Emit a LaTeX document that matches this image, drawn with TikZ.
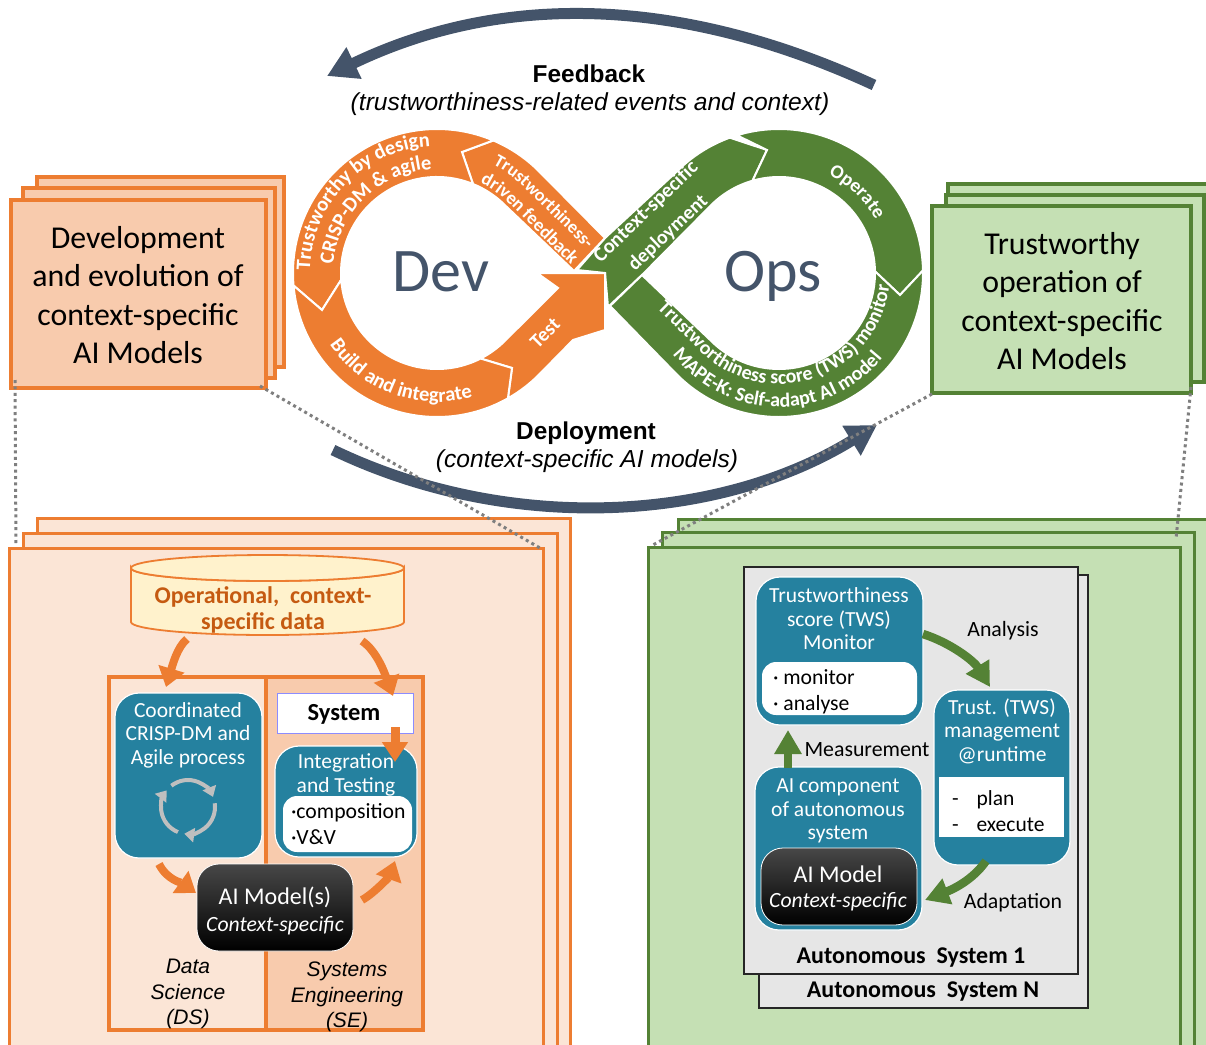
\documentclass[tikz,border=0pt]{standalone}
\usepackage{fontspec}
\setmainfont{Carlito}
\newfontfamily\arialf{Liberation Sans}
\usetikzlibrary{arrows.meta,calc,decorations.text}
\definecolor{orA}{HTML}{ED7D31}
\definecolor{orL}{HTML}{F8CBAD}
\definecolor{orP}{HTML}{FBE5D6}
\definecolor{grA}{HTML}{548235}
\definecolor{grL}{HTML}{C5E0B4}
\definecolor{teal1}{HTML}{25819F}
\definecolor{slate}{HTML}{44546A}
\definecolor{iconG}{HTML}{BFBFBF}
\definecolor{dot1}{HTML}{7F7F7F}
\definecolor{panel}{HTML}{E6E6E6}
\definecolor{dataF}{HTML}{FFF2CC}
\definecolor{dataT}{HTML}{C55A11}
\newcommand{\pxbox}[6]{\node[#6,minimum width={(#4-#2)*1pt},minimum height={(#5-#3)*1pt}] (#1) at ({(#2+#4)/2},{(#3+#5)/2}) {};}
\newcommand{\rfont}[1]{\fontsize{#1}{#1}\bfseries\selectfont}
\tikzset{
  base/.style={rectangle,inner sep=0pt,outer sep=0pt},
  stackO/.style={base,draw=orA,fill=orL,line width=3.6pt},
  stackG/.style={base,draw=grA,fill=grL,line width=3.6pt},
  pageO/.style={base,draw=orA,fill=orP,line width=3pt},
  pageG/.style={base,draw=grA,fill=grL,line width=3pt},
  lane/.style={base,draw=orA,line width=4pt},
  tealbox/.style={base,draw=white,fill=teal1,line width=1.2pt,rounded corners=24pt},
  whitein/.style={base,fill=white,rounded corners=14pt},
  blackbox/.style={base,draw=white,line width=0.8pt,rounded corners=22pt,top color=black!72,middle color=black,bottom color=black},
  panelb/.style={base,draw=black!85,fill=panel,line width=2pt},
  seg/.style={draw=white,line width=2pt,line join=miter},
  segO/.style={seg,fill=orA},
  segG/.style={seg,fill=grA},
  ribbon/.style={decorate,decoration={text along path,text align=center,text color=white,text format delimiters={|}{|}}},
  wt/.style={inner sep=0pt,outer sep=0pt,text=white,align=center,font=\fontsize{21.5}{23.6}\selectfont},
  bt/.style={inner sep=0pt,outer sep=0pt,text=black,align=center,font=\fontsize{21.5}{23.6}\selectfont},
  big/.style={inner sep=0pt,outer sep=0pt,text=black,align=center,font=\fontsize{31.8}{38.3}\selectfont},
  hd/.style={inner sep=0pt,outer sep=0pt,text=black,align=center},
  ital/.style={inner sep=0pt,outer sep=0pt,text=black,align=center,font=\arialf\itshape\fontsize{21}{25.2}\selectfont},
  oarrow/.style={draw=orA,line width=8pt,-{Triangle[length=19pt,width=26pt]}},
  garrow/.style={draw=grA,line width=8.5pt,-{Triangle[length=24pt,width=26pt]}},
  bigarrow/.style={draw=slate,line width=11pt,-{Triangle[length=30pt,width=33pt]}},
  dotted1/.style={draw=dot1,line width=3pt,dash pattern=on 3pt off 3.4pt},
  iconarrow/.style={draw=iconG,line width=4pt,-{Triangle[length=10pt,width=14pt]}}
}
\begin{document}
\begin{tikzpicture}[x=1pt,y=-1pt]
\useasboundingbox (0,0) rectangle (1206,1044);
\clip (0,0) rectangle (1206,1044);
\coordinate (dev) at (437,273);
\coordinate (ops) at (779,273);

% stacked upper boxes
\pxbox{devC}{37}{177}{284}{367}{stackO}
\pxbox{devB}{23}{188}{275}{378}{stackO}
\pxbox{devA}{11}{200}{266}{388}{stackO}
\node[big] (devtext) at (138,295) {Development\\and evolution of\\context-specific\\AI Models};
\pxbox{opsC}{948}{184}{1220}{371}{stackG}
\pxbox{opsB}{946}{195}{1204}{382}{stackG}
\pxbox{opsA}{932}{206}{1191}{393}{stackG}
\node[big] (opstext) at (1062,301) {Trustworthy\\operation of\\context-specific\\AI Models};

% lower-left pages
\pxbox{pgC}{37}{518}{570}{1100}{pageO}
\pxbox{pgB}{23}{533}{557}{1100}{pageO}
\pxbox{pgA}{9}{548}{543}{1100}{pageO}
\pxbox{ds}{109}{677}{266}{1030}{lane}
\pxbox{se}{266}{677}{423}{1030}{lane,fill=orL}

% data store
\node[base,minimum width=273pt,minimum height=80pt] (data) at (267.5,595) {};
\draw[draw=orA,fill=dataF,line width=1.8pt] (data.north west) ++(0,13) coordinate (cylL)
  -- ++(0,54) arc (180:0:136.5 and 13) -- ++(0,-54) arc (0:180:136.5 and 13) -- cycle;
\draw[draw=orA,fill=dataF,line width=1.8pt] (cylL) arc (180:-180:136.5 and 13);
\node[inner sep=0pt,text=dataT,align=center,font=\fontsize{24}{26.5}\bfseries\selectfont] (datatext) at (263,610) {Operational,\ \ context-\\specific data};

% DS column
\pxbox{crisp}{115}{693}{262}{858}{tealbox}
\node[wt] (crisptext) at (188,735) {Coordinated\\CRISP-DM and\\Agile process};
\coordinate (icon) at (188,807);
\draw[iconarrow] ($(icon)+(232:27)$) arc (232:338:27);
\draw[iconarrow] ($(icon)+(352:27)$) arc (352:458:27);
\draw[iconarrow] ($(icon)+(112:27)$) arc (112:218:27);

% SE column
\pxbox{sys}{277}{693}{413}{733}{base,draw=blue!45!white,fill=white,line width=0.8pt}
\node[inner sep=0pt,font=\fontsize{24.5}{25}\bfseries\selectfont] (systext) at (344,714) {System};
\pxbox{integ}{275}{746}{417}{857}{tealbox}
\node[wt] (integtext) at (346,775) {Integration\\and Testing};
\pxbox{compbox}{283}{796}{412}{852}{whitein}
\node[bt,anchor=west,align=left,font=\fontsize{21.7}{25.5}\selectfont] (comptext) at (291,824) {·composition\\·V\&V};
\pxbox{aim}{197}{864}{353}{951}{blackbox}
\node[wt,font=\fontsize{24}{26}\selectfont] (aimtext) at (275,897) {AI Model(s)};
\node[wt,font=\fontsize{21.7}{24}\itshape\selectfont] (aimsub) at (275,926) {Context-specific};
\node[ital] (dslabel) at (188,994) {Data\\Science\\(DS)};
\node[ital] (selabel) at (347,997) {Systems\\Engineering\\(SE)};

% arrows left
\draw[oarrow] ($(data.south west)+(56,4)$) .. controls +(-10,8) and +(6,-20) .. ($(crisp.north west)+(51,-6)$);
\draw[oarrow] ($(data.south west)+(231,6)$) .. controls +(15,10) and +(-8,-22) .. ($(sys.north east)+(-20,3)$);
\draw[oarrow,line width=9pt,-{Triangle[length=20pt,width=25pt]}] ($(sys.south east)+(-18,-6)$) -- ($(integ.north east)+(-22,16)$);
\draw[oarrow] ($(crisp.south west)+(44,6)$) .. controls +(8,16) and +(-14,-10) .. ($(aim.north west)+(-1,29)$);
\draw[oarrow] ($(aim.north east)+(9,36)$) .. controls +(14,-8) and +(-5,14) .. ($(integ.south east)+(-22,4)$);

% lower-right pages
\pxbox{pgN}{678}{519}{1230}{1100}{pageG}
\pxbox{pgM}{662}{532}{1194}{1100}{pageG}
\pxbox{pgL}{648}{547}{1180}{1100}{pageG}
\pxbox{asN}{759}{575}{1088}{1008}{panelb}
\pxbox{as1}{744}{567}{1078}{974}{panelb}
\node[inner sep=0pt,font=\fontsize{24}{25}\bfseries\selectfont] (as1text) at (911,958) {Autonomous\ \ System 1};
\node[inner sep=0pt,font=\fontsize{24}{25}\bfseries\selectfont] (asNtext) at (923,992) {Autonomous\ \ System N};
\pxbox{tws}{756}{577}{923}{725}{tealbox}
\node[wt] (twstext) at (839,619) {Trustworthiness\\score (TWS)\\Monitor};
\pxbox{twsin}{762}{662}{917}{715}{whitein}
\node[bt,anchor=west,align=left,font=\fontsize{21.7}{26}\selectfont] (twsintext) at (773,692) {· monitor\\· analyse};
\pxbox{mgmt}{934}{690}{1070}{865}{tealbox}
\node[wt] (mgmttext) at (1002,731) {Trust. (TWS)\\management\\@runtime};
\pxbox{mgmtin}{939}{777}{1064}{837}{base,fill=white}
\node[bt,anchor=west,align=left,font=\fontsize{21.5}{26}\selectfont] (mgmtintext) at (952,811) {-\hspace{18pt}plan\\-\hspace{18pt}execute};
\pxbox{comp}{755}{767}{922}{930}{tealbox}
\node[wt] (comptext2) at (838,811) {AI component\\of autonomous\\system};
\pxbox{aim2}{761}{848}{917}{925}{blackbox}
\node[wt,font=\fontsize{24}{26}\selectfont] (aim2text) at (838,874) {AI Model};
\node[wt,font=\fontsize{21.7}{24}\itshape\selectfont] (aim2sub) at (838,902) {Context-specific};
\draw[garrow] ($(comp.north west)+(33,1)$) -- ($(tws.south west)+(32,5)$);
\draw[garrow] ($(tws.north east)+(0,57)$) .. controls +(28,9) and +(-16,-26) .. ($(mgmt.north west)+(56,-3)$);
\draw[garrow] ($(mgmt.south east)+(-84,-4)$) .. controls +(-14,20) and +(26,-10) .. ($(comp.south east)+(3,-30)$);
\node[bt,font=\fontsize{21.8}{23}\selectfont] (l1) at (1003,631) {Analysis};
\node[bt,font=\fontsize{21.8}{23}\selectfont] (l2) at (867,750) {Measurement};
\node[bt,font=\fontsize{21.8}{23}\selectfont] (l3) at (1013,903) {Adaptation};

% ribbon: green side
\draw[segG] (577,270) -- (605,238) -- ($(ops)+(225:144)$) arc (225:250:144) -- (767,150) -- ($(ops)+(254:96)$) arc (254:225:96) -- (642,275) -- (608,307) -- (605,273) -- cycle;
\draw[segG] ($(ops)+(253:144)$) arc (253:359:144) -- (900,295) -- ($(ops)+(359:96)$) arc (359:254:96) -- (767,150) -- cycle;
\draw[segG] ($(ops)+(-1:144)$) arc (-1:135:144) -- (610,306) -- (642,275) -- ($(ops)+(135:96)$) arc (135:-1:96) -- (900,295) -- cycle;
% ribbon: orange side
\draw[segO] ($(dev)+(293:144)$) arc (293:315:144) -- (605,238) -- (574,271) -- ($(dev)+(315:96)$) arc (315:292:96) -- (462,152) -- cycle;
\draw[segO] ($(dev)+(175:144)$) arc (175:293:144) -- (462,152) -- ($(dev)+(292:96)$) arc (292:176:96) -- (322,310) -- cycle;
\draw[segO] ($(dev)+(60.5:144)$) arc (60.5:45:144) -- (573,340) -- (605,330) -- (605,273) -- (537,273) -- (558,288) -- ($(dev)+(45:96)$) arc (45:63:96) -- (512,368) -- cycle;
\draw[segO] ($(dev)+(175:144)$) arc (175:60.5:144) -- (512,368) -- ($(dev)+(63:96)$) arc (63:176:96) -- (322,310) -- cycle;

% ribbon labels
\path[ribbon,decoration={text={|\rfont{20.5}|Trustworthy by design}}] ($(dev)+(167:127)$) arc (167:281:127);
\path[ribbon,decoration={text={|\rfont{20.5}|CRISP-DM {\&} agile}}] ($(dev)+(170:104)$) arc (170:282:104);
\path[ribbon,decoration={text={|\rfont{18}|Trustworthiness-}}] ($(dev)+(290:122)$) arc (290:315:122) -- (598,260);
\path[ribbon,decoration={text={|\rfont{18.5}|driven feedback}}] ($(dev)+(290:100)$) arc (290:315:100) -- (578,272);
\path[ribbon,decoration={text={|\rfont{20.5}|Build and integrate}}] ($(dev)+(158:129)$) arc (158:62:129);
\node[inner sep=0pt,text=white,rotate=45,font=\rfont{20}] (testt) at (545,333) {Test};
\path[ribbon,decoration={text={|\rfont{20.5}|Context-specific}}] (594,270) -- (706,162);
\path[ribbon,decoration={text={|\rfont{20}|deployment}}] (628,278) -- (716,196);
\path[ribbon,decoration={text={|\rfont{19.5}|Operate}}] ($(ops)+(-82:110)$) arc (-82:-10:110);
\path[ribbon,decoration={text={|\rfont{20}|Trustworthiness score (TWS) monitor}}] (652,304) -- ($(ops)+(135:111)$) arc (135:3:111);
\path[ribbon,decoration={text={|\rfont{20}|MAPE-K: Self-adapt AI model}}] ($(ops)+(150:134)$) arc (150:32:134);
\node[inner sep=0pt,text=slate,font=\fontsize{62}{62}\selectfont] (devt) at (441,272) {Dev};
\node[inner sep=0pt,text=slate,font=\fontsize{62}{62}\selectfont] (opst) at (773,276) {Ops};

% big arrows
\coordinate (fbS) at (874,85); \coordinate (fbE) at (327,76);
\coordinate (dpS) at (333,450); \coordinate (dpE) at (877,425);
\draw[bigarrow] (fbS) .. controls (690,0) and (510,-12) .. (fbE);
\draw[bigarrow] (dpS) .. controls (510,535) and (720,522) .. (dpE);
\node[hd,font=\arialf\bfseries\fontsize{24.4}{28}\selectfont] (fb1) at (589,74) {Feedback};
\node[hd,font=\arialf\itshape\fontsize{24.6}{28}\selectfont] (fb2) at (590,104) {(trustworthiness-related events and context)};
\node[hd,font=\arialf\bfseries\fontsize{24.4}{28}\selectfont] (dp1) at (586,433) {Deployment};
\node[hd,font=\arialf\itshape\fontsize{24.6}{28}\selectfont] (dp2) at (587,461) {(context-specific AI models)};

% dotted projection lines
\draw[dotted1] ($(devA.south west)+(4,-8)$) -- ($(pgA.north west)+(7,-2)$);
\draw[dotted1] ($(devA.south east)+(-6,-2)$) -- ($(pgA.north east)+(-3,0)$);
\draw[dotted1] ($(opsA.south west)+(0,1)$) -- ($(pgL.north west)+(3,-1)$);
\draw[dotted1] ($(opsA.south east)+(0,-6)$) -- ($(pgL.north east)+(-4,-8)$);
\end{tikzpicture}
\end{document}
